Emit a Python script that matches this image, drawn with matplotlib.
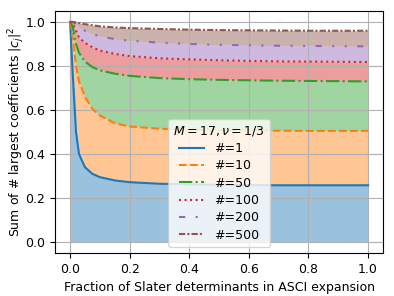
import matplotlib
matplotlib.use('Agg')
import matplotlib.pyplot as plt

plt.rcParams['font.size'] = 9

frac = [0, 0.005, 0.01, 0.02, 0.03, 0.05, 0.075, 0.1, 0.15, 0.2, 0.3, 0.4, 0.5, 0.6, 0.7, 0.8, 0.9, 1.0]

sum_1 = [1.0, 0.87, 0.74, 0.5, 0.4, 0.34, 0.31, 0.295, 0.28, 0.272, 0.265, 0.262, 0.26, 0.259, 0.258, 0.258, 0.258, 0.258]
sum_10 = [1.0, 0.97, 0.92, 0.8, 0.73, 0.66, 0.605, 0.575, 0.54, 0.525, 0.515, 0.51, 0.508, 0.507, 0.506, 0.505, 0.505, 0.505]
sum_50 = [1.0, 0.99, 0.97, 0.9, 0.86, 0.82, 0.795, 0.78, 0.765, 0.755, 0.745, 0.74, 0.737, 0.735, 0.733, 0.732, 0.731, 0.73]
sum_100 = [1.0, 1.0, 0.99, 0.96, 0.93, 0.905, 0.885, 0.87, 0.855, 0.845, 0.835, 0.83, 0.826, 0.823, 0.821, 0.82, 0.819, 0.818]
sum_200 = [1.0, 1.0, 1.0, 0.985, 0.975, 0.96, 0.945, 0.935, 0.922, 0.915, 0.906, 0.9, 0.896, 0.894, 0.892, 0.891, 0.89, 0.889]
sum_500 = [1.0, 1.0, 1.0, 0.998, 0.995, 0.99, 0.985, 0.98, 0.975, 0.972, 0.968, 0.965, 0.963, 0.962, 0.961, 0.96, 0.96, 0.96]

series = [sum_1, sum_10, sum_50, sum_100, sum_200, sum_500]
labels = ['#=1', '#=10', '#=50', '#=100', '#=200', '#=500']
colors = ['tab:blue', 'tab:orange', 'tab:green', 'tab:red', 'tab:purple', 'tab:brown']
styles = ['-', '--', '-.', ':', (0, (3, 5, 1, 5, 1, 5)), (0, (3, 1, 1, 1))]

fig = plt.figure(figsize=(3.94, 2.96), dpi=100)
ax = fig.add_axes([0.14, 0.145, 0.832, 0.818])

lower = [0.0] * len(frac)
for ys, lab, c, ls in zip(series, labels, colors, styles):
    ax.fill_between(frac, lower, ys, color=c, alpha=0.45, linewidth=0)
    ax.plot(frac, ys, color=c, linestyle=ls, label=lab, lw=1.5, zorder=3)
    lower = ys

ax.set_xlim(-0.05, 1.05)
ax.set_ylim(-0.05, 1.05)
ax.grid(True)
ax.set_xlabel('Fraction of Slater determinants in ASCI expansion')
ax.set_ylabel('Sum of # largest coefficients $|c_j|^2$', labelpad=-1)
ax.legend(title=r'$M = 17, \nu = 1/3$', loc='lower center', labelspacing=0.35)

fig.savefig('out.png', dpi=100)
